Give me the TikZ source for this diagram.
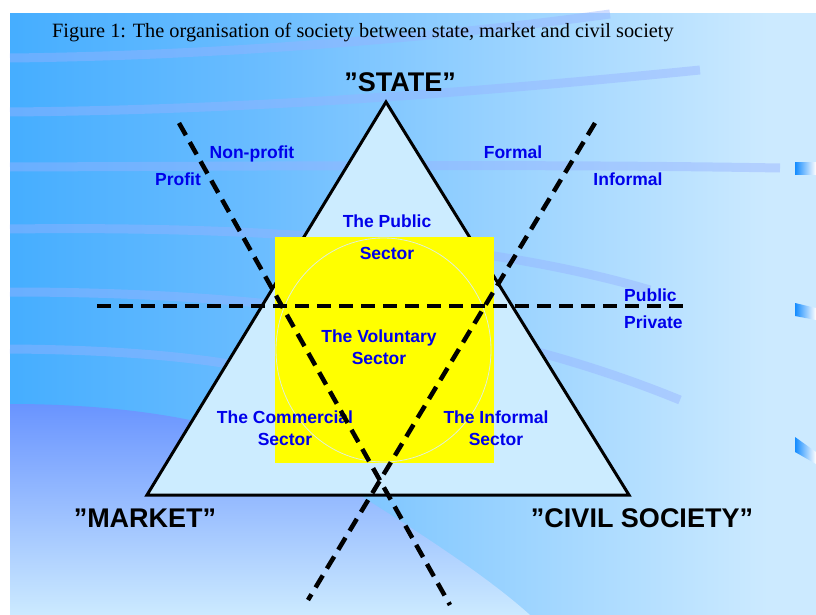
\documentclass[tikz,border=0pt]{standalone}
\usepackage{fontspec}
\setmainfont{Liberation Serif}
\setsansfont{Liberation Sans}
\usepackage{tikz}

\definecolor{bgleft}{RGB}{10,150,255}
\definecolor{bgmid}{RGB}{105,188,255}
\definecolor{bgright}{RGB}{204,234,255}
\definecolor{bandblue}{RGB}{150,178,255}
\definecolor{lowtop}{RGB}{105,148,255}
\definecolor{trifill}{RGB}{204,236,255}
\definecolor{sectorblue}{RGB}{0,0,235}
\definecolor{ringcol}{RGB}{225,240,215}
\definecolor{bulletblue}{RGB}{20,140,255}
\definecolor{rectyellow}{RGB}{255,255,0}

\pgfdeclarehorizontalshading{slidebg}{100bp}{color(0bp)=(bgleft); color(40bp)=(bgmid); color(72bp)=(bgright); color(100bp)=(bgright)}

\begin{document}
\begin{tikzpicture}[x=1pt, y=-1pt,
		label_style/.style={font=\sffamily\bfseries\fontsize{17.5}{20}\selectfont, text=sectorblue, inner sep=0pt, anchor=base},
		title_style/.style={font=\sffamily\bfseries\fontsize{27}{30}\selectfont, text=black, inner sep=0pt, anchor=base},
		edge_style/.style={draw=black, line width=4.5pt, dash pattern=on 14pt off 8pt},
		band_style/.style={draw=bandblue, line width=9pt, opacity=0.45},
		tri_style/.style={draw=black, line width=3pt, fill=trifill}]

		\useasboundingbox (0,0) rectangle (816,615);
		\fill[white] (0,0) rectangle (816,615);
		\shade[shading=slidebg] (10,14) rectangle (816,615);

		% light bands across the slide
		\draw[band_style] (10,58) .. controls (200,56) and (420,40) .. (610,14);
		\draw[band_style] (10,112) .. controls (250,110) and (480,92) .. (700,70);
		\draw[band_style] (10,167) .. controls (300,166) and (550,164) .. (780,168);
		\draw[band_style] (10,229) .. controls (250,226) and (480,240) .. (650,290);
		\draw[band_style] (10,292) .. controls (250,292) and (480,318) .. (680,400);
		\draw[band_style] (10,349) .. controls (150,350) and (250,362) .. (320,385);
		\shade[top color=lowtop, bottom color=bgright] (10,404) .. controls (150,404) and (250,428) .. (300,458)
			.. controls (400,520) and (480,570) .. (530,615) -- (10,615) -- cycle;

		% bullets at the right edge
		\shade[left color=bulletblue, right color=white] (795,162) -- (816,162) -- (816,174) -- (795,174) -- cycle;
		\shade[left color=bulletblue, right color=white] (795,303) -- (816,308) -- (816,320) -- (795,316) -- cycle;
		\shade[left color=bulletblue, right color=white] (795,437) -- (816,452) -- (816,464) -- (795,452) -- cycle;

		\coordinate (state_pt) at (386,102);
		\coordinate (market_pt) at (147,495);
		\coordinate (civil_pt) at (629,495);

		\filldraw[tri_style] (state_pt) -- (market_pt) -- (civil_pt) -- cycle;
		\fill[rectyellow] (275,237) rectangle (494,463);
		\draw[ringcol, line width=0.8pt] (383.5,350) ellipse (107.5 and 112);

		\node[title_style] (n0) at (400,92)  {”STATE”};
		\node[title_style] (n1) at (145,527) {”MARKET”};
		\node[title_style] (n2) at (642,527) {”CIVIL SOCIETY”};

		\node[label_style] (n3) at (252,158)  {Non-profit};
		\node[label_style] (n4) at (178,185)  {Profit};
		\node[label_style] (n5) at (513,158)  {Formal};
		\node[label_style] (n6) at (628,185)  {Informal};
		\node[label_style, anchor=base west] (n7) at (624,301)  {Public};
		\node[label_style, anchor=base west] (n8) at (624,328)  {Private};
		\node[label_style] (n9) at (387,227)  {The Public};
		\node[label_style] (n10) at (387,259) {Sector};
		\node[label_style] (n11) at (379,342) {The Voluntary};
		\node[label_style] (n12) at (379,364) {Sector};
		\node[label_style] (n13) at (285,423) {The Commercial};
		\node[label_style] (n14) at (285,445) {Sector};
		\node[label_style] (n15) at (496,423) {The Informal};
		\node[label_style] (n16) at (496,445) {Sector};

		\node[anchor=base west, inner sep=0pt, font=\fontsize{20.3}{23}\selectfont] (cap) at (52,38)
			{Figure 1: The organisation of society between state, market and civil society};

		\coordinate (p0) at (179,123);
		\coordinate (p1) at (450,605);
		\coordinate (p2) at (595,123);
		\coordinate (p3) at (308,600);
		\coordinate (p4) at (97,306);
		\coordinate (p5) at (683,306);

		\draw[edge_style]  (p0) edge node{} (p1);
		\draw[edge_style]  (p2) edge node{} (p3);
		\draw[edge_style]  (p4) edge node{} (p5);
		\end{tikzpicture}
\end{document}
